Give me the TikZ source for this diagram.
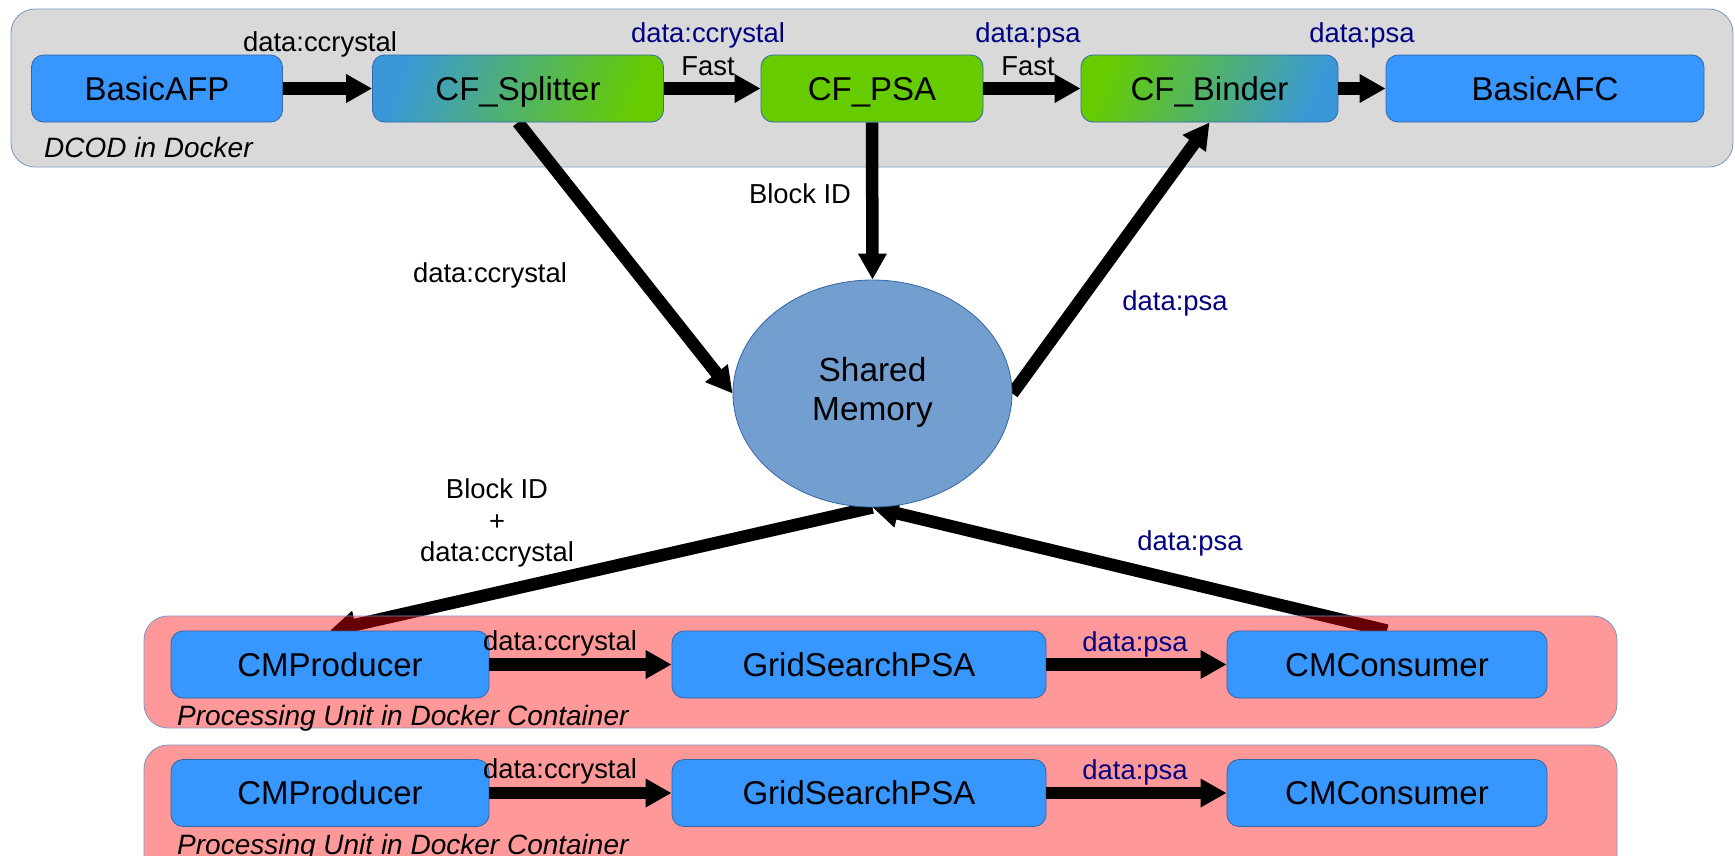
\documentclass[tikz,border=0pt]{standalone}
\usepackage{fontspec}
\setmainfont{Liberation Sans}
\usetikzlibrary{arrows.meta,shapes.geometric}

\definecolor{boxblue}{HTML}{3797FF}
\definecolor{boxedge}{HTML}{3465A4}
\definecolor{psagreen}{HTML}{66CC00}
\definecolor{tealblue}{HTML}{3A98D8}
\definecolor{panelgray}{HTML}{D9D9D9}
\definecolor{paneledge}{HTML}{7A96C4}
\definecolor{memblue}{HTML}{729FCF}
\definecolor{navy}{HTML}{000080}

\pgfdeclarelayer{panel}
\pgfdeclarelayer{links}
\pgfdeclarelayer{tint}
\pgfsetlayers{panel,links,tint,main}

\tikzset{
  big/.style={font=\fontsize{33}{38.5}\selectfont},
  small/.style={font=\fontsize{27.4}{31.5}\selectfont},
  module/.style={draw=boxedge, line width=0.8pt, rounded corners=12pt,
    minimum height=67pt, inner sep=0pt, text height=23.4pt, text depth=0pt, big},
  bluebox/.style={module, fill=boxblue},
  flow/.style={line width=12.5pt, -{Triangle[length=26pt,width=27pt]}},
  tag/.style={small, inner sep=0pt},
  navytag/.style={tag, text=navy},
  caption/.style={font=\fontsize{28}{32}\selectfont\itshape, anchor=west, inner sep=0pt},
  container/.style={draw=paneledge, line width=0.8pt, rounded corners=24pt},
}

\begin{document}
\begin{tikzpicture}[x=1pt,y=-1pt]
\useasboundingbox (0,0) rectangle (1735,855);
\clip (0,0) rectangle (1735,855);

% DCOD panel
\begin{pgfonlayer}{panel}
  \draw[container, fill=panelgray] (11,9) rectangle (1733,167);
\end{pgfonlayer}
\node[caption] (dcod) at (44,147) {DCOD in Docker};

% DCOD pipeline
\node[bluebox, minimum width=251pt] (afp) at (157,88.5) {BasicAFP};
\node[module, minimum width=291pt, left color=tealblue, right color=psagreen,
      shading angle=70] (split) at (518,88.5) {CF\_Splitter};
\node[module, minimum width=222pt, fill=psagreen] (psa) at (872,88.5) {CF\_PSA};
\node[module, minimum width=257pt, left color=psagreen, right color=tealblue,
      shading angle=70] (binder) at (1209.5,88.5) {CF\_Binder};
\node[bluebox, minimum width=318pt] (afc) at (1545,88.5) {BasicAFC};

\draw[flow] (afp) -- (split);
\draw[flow] (split) -- (psa);
\draw[flow] (psa) -- (binder);
\draw[flow] (binder) -- (afc);

\node[tag] (l1) at (320,44) {data:ccrystal};
\node[navytag] (l2) at (708,35) {data:ccrystal};
\node[tag] (l3) at (708,66) {Fast};
\node[navytag] (l4) at (1028,35) {data:psa};
\node[tag] (l5) at (1028,66) {Fast};
\node[navytag] (l6) at (1362,35) {data:psa};

% shared memory
\node[ellipse, draw=boxedge, line width=0.8pt, fill=memblue, minimum width=279pt,
      minimum height=227pt, inner sep=0pt,
      font=\fontsize{33.4}{38.5}\selectfont] (mem)
      at (872.5,393.5) {\raisebox{-4pt}{\begin{tabular}{@{}c@{}}Shared\\Memory\end{tabular}}};

% processing units
\foreach \r/\y in {1/664.5, 2/793} {
  \node[bluebox, minimum width=318pt] (prod\r) at (330,\y) {CMProducer};
  \node[bluebox, minimum width=374pt] (grid\r) at (859,\y) {GridSearchPSA};
  \node[bluebox, minimum width=320pt] (cons\r) at (1387,\y) {CMConsumer};
  \draw[flow] (prod\r) -- (grid\r);
  \draw[flow] (grid\r) -- (cons\r);
  \node[tag] (pc\r) at (560,\y-21.5) {data:ccrystal};
  \node[navytag] (pp\r) at (1135,\y-20.5) {data:psa};
  \node[caption] (pu\r) at (177,\y+54) {Processing Unit in Docker Container};
}
\begin{pgfonlayer}{tint}
  \draw[container, fill=red, fill opacity=0.4] (144,616) rectangle (1617,728);
  \draw[container, fill=red, fill opacity=0.4] (144,745) rectangle (1617,880);
\end{pgfonlayer}

% links through shared memory
\begin{pgfonlayer}{links}
  \draw[flow] (split.south) -- (mem.west);
  \draw[flow] (psa.south) -- (mem.north);
  \draw[flow] (mem.east) -- (binder.south);
  \draw[flow] (mem.south) -- (prod1.north);
  \draw[flow] (cons1.north) -- (mem.south);
\end{pgfonlayer}

\node[tag] (m1) at (490,275) {data:ccrystal};
\node[tag] (m2) at (800,194) {Block ID};
\node[navytag] (m3) at (1175,303) {data:psa};
\node[tag, align=center] (m4) at (497,523) {Block ID\\+\\data:ccrystal};
\node[navytag] (m5) at (1190,543) {data:psa};
\end{tikzpicture}
\end{document}
